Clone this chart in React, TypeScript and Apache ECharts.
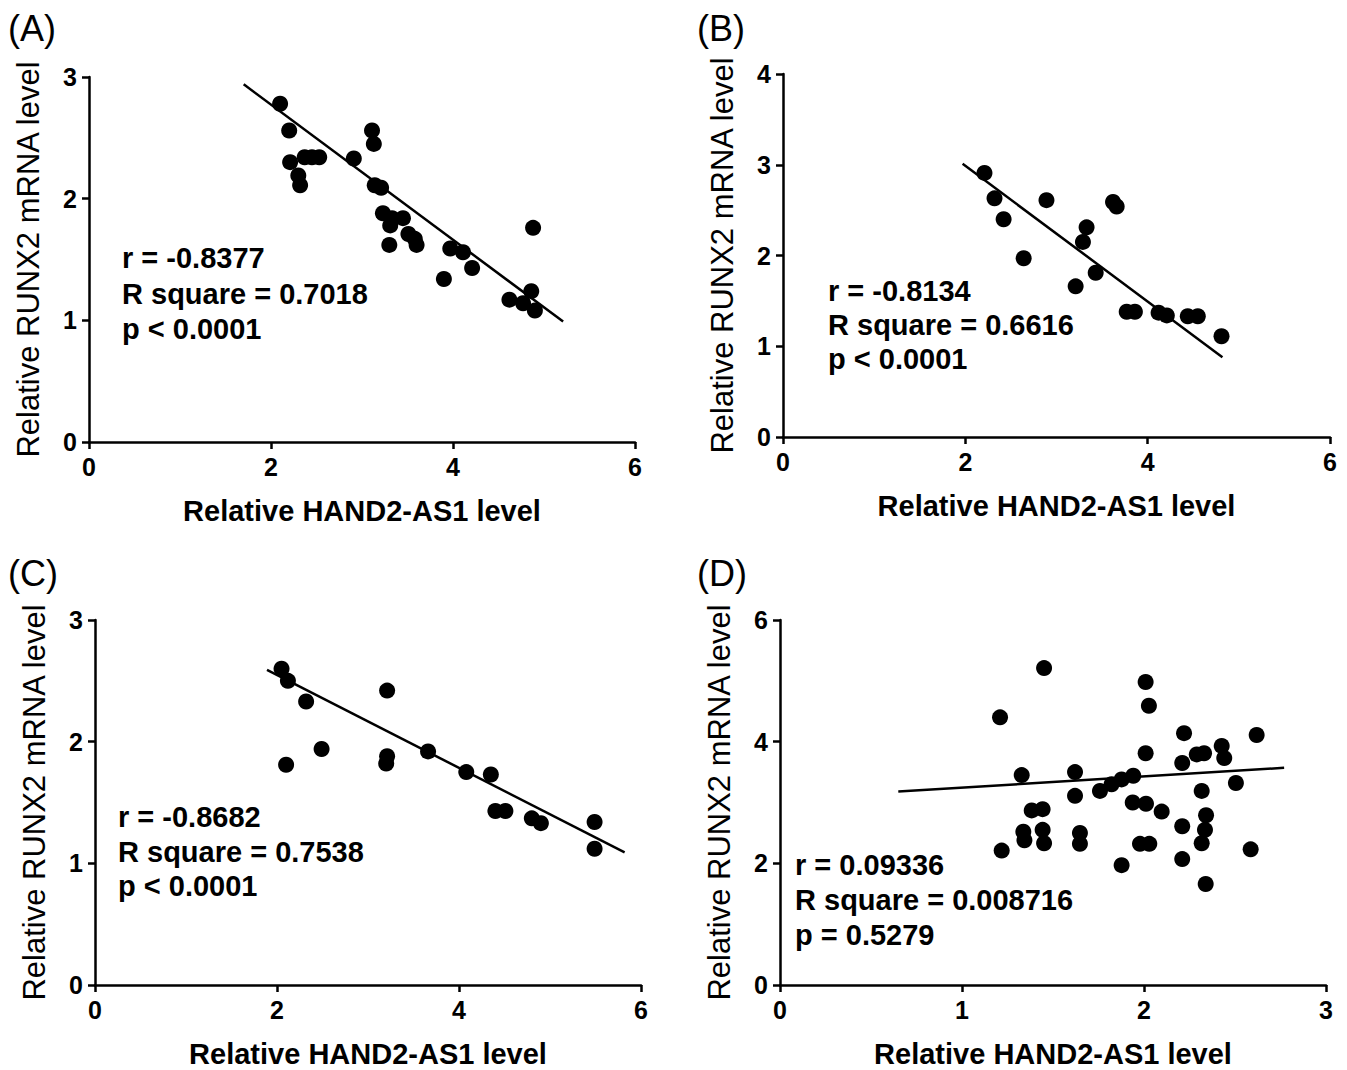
import React, { useEffect, useRef } from "react";
import * as echarts from "echarts";

// Panel A
const pointsA: number[][] = [
  [2.10, 2.78], [2.20, 2.56], [2.21, 2.30], [2.30, 2.19], [2.32, 2.11],
  [2.37, 2.34], [2.45, 2.34], [2.53, 2.34], [2.91, 2.33], [3.11, 2.56],
  [3.13, 2.45], [3.14, 2.11], [3.21, 2.09], [3.23, 1.88], [3.31, 1.78],
  [3.33, 1.84], [3.45, 1.84], [3.30, 1.62], [3.51, 1.71], [3.58, 1.67],
  [3.60, 1.62], [3.97, 1.59], [4.11, 1.56], [4.21, 1.43], [3.90, 1.34],
  [4.88, 1.76], [4.62, 1.17], [4.77, 1.14], [4.86, 1.24], [4.90, 1.08],
];
const lineA: number[][] = [[1.70, 2.94], [5.21, 0.99]];
const statsA: string[] = ["r = -0.8377", "R square = 0.7018", "p < 0.0001"];

// Panel B
const pointsB: number[][] = [
  [2.21, 2.91], [2.32, 2.63], [2.42, 2.40], [2.89, 2.61], [2.64, 1.97],
  [3.33, 2.31], [3.29, 2.15], [3.62, 2.59], [3.66, 2.54], [3.43, 1.81],
  [3.21, 1.66], [3.77, 1.38], [3.86, 1.38], [4.12, 1.37], [4.21, 1.34],
  [4.44, 1.33], [4.55, 1.33], [4.81, 1.11],
];
const lineB: number[][] = [[1.97, 3.01], [4.82, 0.88]];
const statsB: string[] = ["r = -0.8134", "R square = 0.6616", "p < 0.0001"];

// Panel C
const pointsC: number[][] = [
  [2.05, 2.60], [2.12, 2.50], [2.32, 2.33], [2.10, 1.81], [2.49, 1.94],
  [3.21, 2.42], [3.21, 1.88], [3.20, 1.82], [3.66, 1.92], [4.08, 1.75],
  [4.35, 1.73], [4.40, 1.43], [4.51, 1.43], [4.80, 1.37], [4.90, 1.33],
  [5.49, 1.34], [5.49, 1.12],
];
const lineC: number[][] = [[1.89, 2.59], [5.82, 1.09]];
const statsC: string[] = ["r = -0.8682", "R square = 0.7538", "p < 0.0001"];

// Panel D
const pointsD: number[][] = [
  [1.451, 5.21], [1.209, 4.40], [2.009, 4.98], [2.027, 4.59], [2.220, 4.14],
  [2.619, 4.11], [2.009, 3.81], [2.427, 3.93], [2.441, 3.73], [2.29, 3.79],
  [2.33, 3.81], [2.210, 3.65], [1.328, 3.45], [1.621, 3.50], [1.941, 3.44],
  [1.877, 3.38], [1.822, 3.30], [1.758, 3.19], [1.621, 3.11], [2.505, 3.32],
  [2.317, 3.19], [1.938, 3.00], [2.011, 2.98], [2.097, 2.85], [1.383, 2.87],
  [1.443, 2.89], [1.337, 2.52], [1.343, 2.38], [1.443, 2.55], [1.451, 2.33],
  [1.648, 2.50], [1.648, 2.32], [2.341, 2.79], [2.335, 2.55], [2.317, 2.33],
  [2.210, 2.61], [1.978, 2.32], [2.029, 2.32], [1.218, 2.21], [2.586, 2.23],
  [1.877, 1.97], [2.210, 2.07], [2.339, 1.66],
];
const lineD: number[][] = [[0.65, 3.18], [2.77, 3.57]];
const statsD: string[] = ["r = 0.09336", "R square = 0.008716", "p = 0.5279"];

const xAxisName = "Relative HAND2-AS1 level";
const yAxisName = "Relative RUNX2 mRNA level";
const panelLabels: string[] = ["(A)", "(B)", "(C)", "(D)"];

const FONT = "Liberation Sans, Arial, sans-serif";

export default function App() {
  const ref = useRef<HTMLDivElement>(null);
  useEffect(() => {
    document.body.style.margin = "0";
    if (!ref.current) return;
    const chart = echarts.init(ref.current, undefined, { renderer: "svg" });

    const grids = [
      { left: 89, top: 77, width: 546, height: 365 },
      { left: 783, top: 74, width: 547, height: 363 },
      { left: 95, top: 620, width: 546, height: 365 },
      { left: 780, top: 620, width: 546, height: 365 },
    ];
    const xRanges = [
      { max: 6, interval: 2 },
      { max: 6, interval: 2 },
      { max: 6, interval: 2 },
      { max: 3, interval: 1 },
    ];
    const yRanges = [
      { max: 3, interval: 1 },
      { max: 4, interval: 1 },
      { max: 3, interval: 1 },
      { max: 6, interval: 2 },
    ];
    const pts = [pointsA, pointsB, pointsC, pointsD];
    const lines = [lineA, lineB, lineC, lineD];
    const stats = [statsA, statsB, statsC, statsD];
    const statPos = [
      { x: 122, y: [259, 295, 330] },
      { x: 828, y: [292, 326, 360] },
      { x: 118, y: [818, 853, 887] },
      { x: 795, y: [866, 901, 936] },
    ];
    const labelPos = [
      { x: 8, y: 30 },
      { x: 697, y: 30 },
      { x: 8, y: 575 },
      { x: 697, y: 575 },
    ];

    const axisLine = { show: true, onZero: false, lineStyle: { color: "#000", width: 2.5 } };
    const axisTick = { show: true, length: 7, inside: false, lineStyle: { color: "#000", width: 2.5 } };

    const xAxis = grids.map((_, i) => ({
      type: "value",
      gridIndex: i,
      min: 0,
      max: xRanges[i].max,
      interval: xRanges[i].interval,
      axisLine,
      axisTick,
      splitLine: { show: false },
      axisLabel: { color: "#000", fontSize: 25, fontWeight: "bold", fontFamily: FONT, margin: 12 },
      name: xAxisName,
      nameLocation: "middle",
      nameGap: 54,
      nameTextStyle: { color: "#000", fontSize: 29, fontWeight: "bold", fontFamily: FONT },
    }));
    const yAxis = grids.map((_, i) => ({
      type: "value",
      gridIndex: i,
      min: 0,
      max: yRanges[i].max,
      interval: yRanges[i].interval,
      axisLine,
      axisTick,
      splitLine: { show: false },
      axisLabel: { color: "#000", fontSize: 25, fontWeight: "bold", fontFamily: FONT, margin: 12 },
      name: yAxisName,
      nameLocation: "middle",
      nameGap: 45,
      nameTextStyle: { color: "#000", fontSize: 31, fontWeight: "normal", fontFamily: FONT },
    }));

    const series: any[] = [];
    pts.forEach((p, i) => {
      series.push({
        type: "scatter",
        xAxisIndex: i,
        yAxisIndex: i,
        data: p,
        symbol: "circle",
        symbolSize: 16,
        itemStyle: { color: "#000", opacity: 1 },
        silent: true,
      });
      series.push({
        type: "line",
        xAxisIndex: i,
        yAxisIndex: i,
        data: lines[i],
        symbol: "none",
        lineStyle: { color: "#000", width: 2.5 },
        silent: true,
      });
    });

    const graphic: any[] = [];
    stats.forEach((s, i) => {
      s.forEach((t, j) => {
        graphic.push({
          type: "text",
          left: statPos[i].x,
          top: statPos[i].y[j] - 16,
          style: { text: t, fill: "#000", font: `bold 29px ${FONT}` },
        });
      });
    });
    panelLabels.forEach((t, i) => {
      graphic.push({
        type: "text",
        left: labelPos[i].x,
        top: labelPos[i].y - 20,
        style: { text: t, fill: "#000", font: `36px ${FONT}` },
      });
    });

    chart.setOption({
      animation: false,
      backgroundColor: "#fff",
      grid: grids,
      xAxis,
      yAxis,
      series,
      graphic,
    });
    return () => chart.dispose();
  }, []);
  return <div ref={ref} style={{ width: 1347, height: 1070 }} />;
}
